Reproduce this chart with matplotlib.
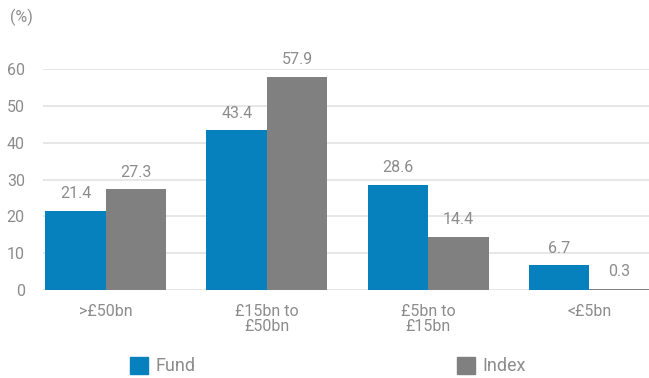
import numpy as np
import matplotlib.pyplot as plt
from matplotlib.patches import Patch

plt.rcParams['font.family'] = ['Roboto', 'DejaVu Sans']

# Reparto por tamaño de capitalización
categories = ['>£50bn', '£15bn to\n£50bn', '£5bn to\n£15bn', '<£5bn']
fund = [21.4, 43.4, 28.6, 6.7]
index = [27.3, 57.9, 14.4, 0.3]

fund_color = '#0780be'
index_color = '#808080'
text_color = '#8c8c8c'

fig = plt.figure(figsize=(6.49, 3.78), dpi=100)
ax = fig.add_axes([0.066, 0.233, 0.934, 0.584])

x = np.arange(len(categories))
w = 0.375
b1 = ax.bar(x - w / 2, fund, w, color=fund_color, zorder=3)
b2 = ax.bar(x + w / 2, index, w, color=index_color, zorder=3)

for bars, vals in ((b1, fund), (b2, index)):
    for rect, v in zip(bars, vals):
        ax.annotate(f'{v:.1f}', (rect.get_x() + rect.get_width() / 2, v),
                    xytext=(0, 7), textcoords='offset points', ha='center', va='bottom',
                    fontsize=11.5, color=text_color)

ax.set_xlim(-0.39, 3.37)
ax.set_ylim(0, 60)
ax.set_yticks(range(0, 61, 10))
ax.yaxis.grid(True, color='#e3e3e3', linewidth=1.2, zorder=0)
for s in ax.spines.values():
    s.set_visible(False)
ax.tick_params(axis='both', length=0, labelsize=11.5, labelcolor=text_color)
ax.tick_params(axis='y', pad=13)
ax.tick_params(axis='x', pad=10)
ax.set_xticks(x)
ax.set_xticklabels(categories, linespacing=1.05)

fig.text(0.015, 0.955, '(%)', fontsize=11.5, color=text_color, va='center')

handles = [Patch(color=fund_color), Patch(color=index_color)]
leg = fig.legend(handles, ['Fund', 'Index'], loc='lower left', bbox_to_anchor=(0.175, -0.036),
                 ncol=2, frameon=False, fontsize=13, handlelength=1.0, handleheight=1.05,
                 handletextpad=0.4, columnspacing=14.5)
for t in leg.get_texts():
    t.set_color(text_color)

fig.savefig('out.png', dpi=100)
